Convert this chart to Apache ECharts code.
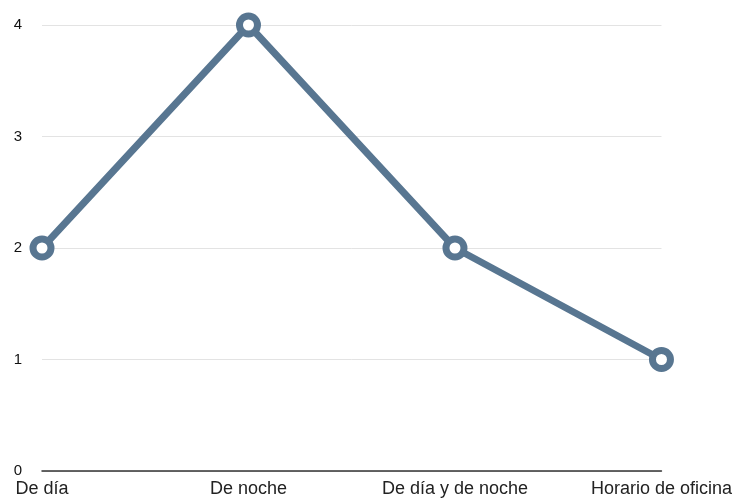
<!DOCTYPE html>
<html>
<head>
<meta charset="utf-8">
<script src="https://cdn.jsdelivr.net/npm/echarts@6/dist/echarts.min.js"></script>
<style>
  html, body { margin: 0; padding: 0; background: #fff; }
  #chart { width: 735px; height: 500px; }
</style>
</head>
<body>
<div id="chart"></div>
<script>
// Schedule categories and how many responses each received
const categories = ['De día', 'De noche', 'De día y de noche', 'Horario de oficina'];
const values = [2, 4, 2, 1];
const yTicks = [0, 1, 2, 3, 4];

const chart = echarts.init(document.getElementById('chart'));
chart.setOption({
  animation: false,
  grid: { left: 42, right: 71, top: 25, bottom: 29 },
  xAxis: {
    type: 'category',
    data: categories,
    boundaryGap: false,
    axisLine: { lineStyle: { color: '#333', width: 1.5 } },
    axisTick: { show: false },
    axisLabel: {
      color: '#222',
      fontFamily: 'Liberation Sans, Arial, sans-serif',
      fontSize: 18,
      margin: 9,
      interval: 0
    },
    splitLine: { show: false }
  },
  yAxis: {
    type: 'value',
    min: yTicks[0],
    max: yTicks[yTicks.length - 1],
    interval: 1,
    axisLine: { show: false },
    axisTick: { show: false },
    axisLabel: {
      color: '#111',
      fontFamily: 'Liberation Sans, Arial, sans-serif',
      fontSize: 15,
      margin: 20
    },
    splitLine: { lineStyle: { color: '#e3e3e3', width: 1 } }
  },
  series: [{
    type: 'line',
    data: values,
    lineStyle: { color: '#587691', width: 7 },
    symbol: 'circle',
    symbolSize: 18,
    itemStyle: { color: '#fff', borderColor: '#587691', borderWidth: 7 },
    z: 3
  }]
});
</script>
</body>
</html>
